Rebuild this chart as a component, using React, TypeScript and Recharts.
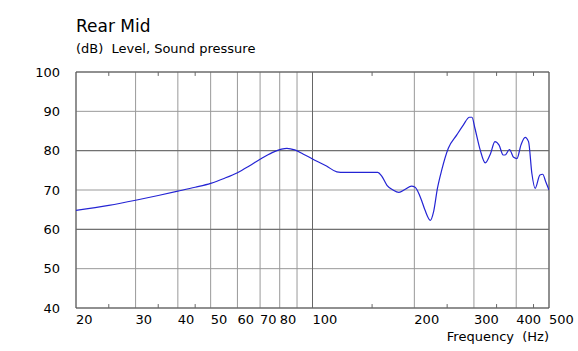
import { LineChart, Line, XAxis, YAxis, CartesianGrid, ReferenceLine, ReferenceArea } from "recharts";

const FREQS = [
  20, 25, 30, 35, 40, 45, 50, 55, 60, 65, 70, 76, 81, 84, 88.6, 94, 100, 110, 118, 121,
  156, 160, 166, 173, 180, 188, 196, 201, 210, 215, 223, 228, 234, 241, 252, 267, 279,
  291, 296, 302, 313, 324, 336, 346, 356, 366, 371, 382, 393, 402, 413, 425, 435, 445,
  455, 470, 479, 489, 500,
];
const LEVELS = [
  64.8, 66.1, 67.4, 68.6, 69.7, 70.7, 71.7, 73.0, 74.4, 76.1, 77.8, 79.5, 80.4, 80.6, 80.2, 79.1, 77.9, 76.1, 74.6, 74.5,
  74.5, 73.6, 71.2, 70.0, 69.4, 70.2, 71.0, 70.7, 67.4, 64.9, 62.3, 64.5, 70.4, 75.1, 80.6, 84.0, 86.5,
  88.5, 88.5, 85.7, 80.2, 76.9, 79.3, 82.3, 81.4, 78.9, 78.9, 80.3, 78.3, 78.0, 81.4, 83.4, 82.3, 74.2,
  70.4, 73.8, 74.0, 72.1, 70.0,
];

const X_TICKS = [20, 30, 40, 50, 60, 70, 80, 90, 100, 200, 300, 400, 500];
const X_HIDDEN_LABELS = [90];
const MINOR_TICKS = [25, 35, 45, 150, 250, 350, 450];
const Y_TICKS = [40, 50, 60, 70, 80, 90, 100];

const data = FREQS.map((f, i) => ({ f, db: LEVELS[i] }));

const FONT = "'DejaVu Sans', Verdana, sans-serif";

export default function App() {
  return (
    <div style={{ position: "absolute", left: 0, top: 0, width: 578, height: 351, background: "#fff", fontFamily: FONT }}>
      <div style={{ position: "absolute", left: 76, top: 16, fontSize: 17, color: "#000", whiteSpace: "pre" }}>Rear Mid</div>
      <div style={{ position: "absolute", left: 76, top: 41, fontSize: 13, color: "#000", whiteSpace: "pre" }}>(dB)  Level, Sound pressure</div>
      <div style={{ position: "absolute", right: 29, top: 329, fontSize: 13, color: "#000", whiteSpace: "pre" }}>Frequency  (Hz)</div>

      <LineChart width={578} height={351} data={data} margin={{ top: 72, right: 29, left: 0, bottom: 0 }}>
        <CartesianGrid stroke="#999" strokeWidth={1} />
        <XAxis
          dataKey="f" type="number" scale="log" domain={[20, 500]} ticks={X_TICKS}
          height={43} axisLine={false} tickLine={false} tickSize={0} tickMargin={0}
          allowDataOverflow interval={0}
          tick={({ x, y, payload }: any) =>
            X_HIDDEN_LABELS.includes(payload.value) ? <g /> : (
              <text x={x} y={y + 16} textAnchor="start" fontSize={13} fontFamily={FONT} fill="#000">{payload.value}</text>
            )}
        />
        <YAxis
          type="number" domain={[40, 100]} ticks={Y_TICKS} width={76}
          axisLine={false} tickLine={false} tickSize={0} tickMargin={0} interval={0}
          tick={({ x, y, payload }: any) => (
            <text x={x - 16} y={y} textAnchor="end" dominantBaseline="central" fontSize={13} fontFamily={FONT} fill="#000">{payload.value}</text>
          )}
        />
        <ReferenceLine y={80} stroke="#666" />
        <ReferenceLine y={60} stroke="#666" />
        <ReferenceLine x={100} stroke="#666" />
        {MINOR_TICKS.map((t) => (
          <ReferenceLine key={"t" + t} segment={[{ x: t, y: 100 }, { x: t, y: 99 }]} stroke="#666" />
        ))}
        {MINOR_TICKS.map((t) => (
          <ReferenceLine key={"b" + t} segment={[{ x: t, y: 40 }, { x: t, y: 41 }]} stroke="#666" />
        ))}
        <ReferenceArea x1={20} x2={500} y1={40} y2={100} fill="none" stroke="#555" strokeWidth={1} />
        <Line dataKey="db" type="monotone" stroke="#2424d4" strokeWidth={1.2} dot={false} isAnimationActive={false} />
      </LineChart>
    </div>
  );
}
